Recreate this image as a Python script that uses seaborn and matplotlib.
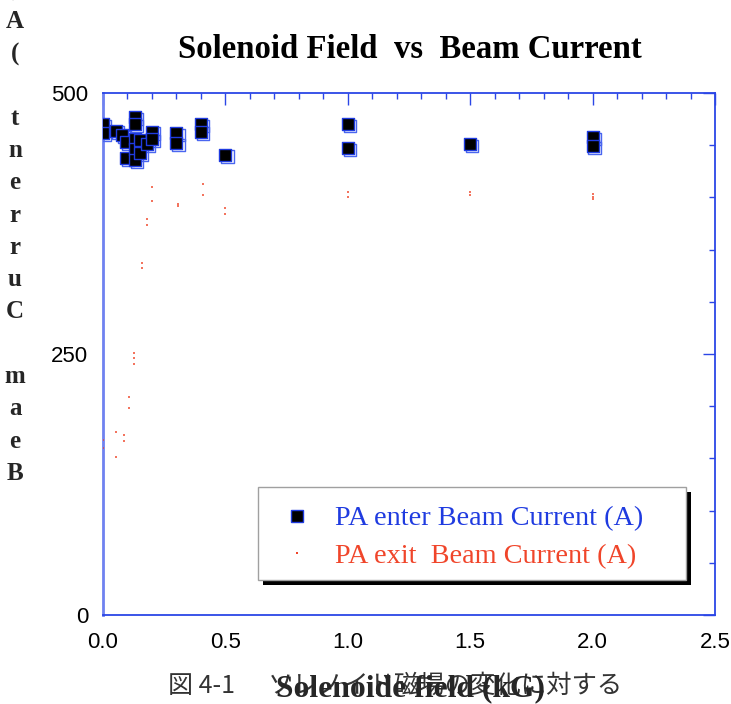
import matplotlib
matplotlib.use("Agg")
import matplotlib.pyplot as plt
import matplotlib.transforms as mtransforms
from matplotlib.lines import Line2D
from matplotlib.patches import Rectangle
import seaborn as sns
import pandas as pd

# PA enter beam current (A) against solenoid field (kG)
enter_field = [0.0, 0.0, 0.053, 0.078, 0.13, 0.13, 0.094, 0.094, 0.13, 0.13, 0.13,
               0.15, 0.15, 0.18, 0.2, 0.2, 0.3, 0.3, 0.4, 0.4, 0.5,
               1.0, 1.0, 1.5, 2.0, 2.0]
enter_current = [470, 462, 464, 460, 477, 470, 453, 438, 456, 446, 436,
                 455, 443, 451, 463, 456, 462, 452, 470, 463, 441,
                 470, 447, 451, 458, 449]

# PA exit beam current (A) against solenoid field (kG)
exit_field = [0.0, 0.0, 0.054, 0.054, 0.087, 0.087, 0.107, 0.107, 0.128, 0.128, 0.128,
              0.16, 0.16, 0.18, 0.18, 0.2, 0.2, 0.305, 0.305, 0.41, 0.41, 0.5, 0.5,
              1.0, 1.0, 1.5, 1.5, 2.0, 2.0, 2.0]
exit_current = [168, 160, 175, 151, 172, 167, 209, 198, 251, 246, 240,
                337, 332, 379, 374, 410, 397, 394, 392, 413, 402, 390, 384,
                405, 400, 405, 402, 403, 400, 398]

series_labels = ["PA enter Beam Current (A)", "PA exit  Beam Current (A)"]
title = "Solenoid Field  vs  Beam Current"
x_label = "Solenoide field (kG)"
y_label = "Beam Current (A)"
caption_head = "図 4-1"
caption_body = "ソレノイド磁場の変化に対する"

BLUE = "#1f3be0"
RED = "#f0452a"
AXIS_BLUE = "#2b46e6"

sns.set_style("white")
plt.rcParams["font.family"] = ["Liberation Sans", "DejaVu Sans"]

W, H = 731, 704
fig = plt.figure(figsize=(W / 100, H / 100), dpi=100)


def fx(px):
    return px / W


def fy(py):
    return 1 - py / H


ax = fig.add_axes([fx(103), fy(615), fx(715) - fx(103), fy(93) - fy(615)])

enter_df = pd.DataFrame({"field": enter_field, "current": enter_current})
exit_df = pd.DataFrame({"field": exit_field, "current": exit_current})

# offset hollow outline behind each filled square
sns.scatterplot(data=enter_df, x="field", y="current", ax=ax, marker="s", s=78,
                facecolor="none", edgecolor="#4a66f0", linewidth=1.0, zorder=3)
shadow = ax.collections[-1]
shadow.set_offset_transform(ax.transData + mtransforms.ScaledTranslation(
    2 / 100, -2 / 100, fig.dpi_scale_trans))

sns.scatterplot(data=enter_df, x="field", y="current", ax=ax, marker="s", s=78,
                color="black", edgecolor=BLUE, linewidth=1.0, zorder=4)
sns.scatterplot(data=exit_df, x="field", y="current", ax=ax, marker="s", s=2.5,
                color=RED, linewidth=0, alpha=0.75, zorder=4)

ax.set_xlim(0, 2.5)
ax.set_ylim(0, 500)
ax.set_xticks([0.0, 0.5, 1.0, 1.5, 2.0, 2.5])
ax.set_xticklabels(["0.0", "0.5", "1.0", "1.5", "2.0", "2.5"])
ax.set_xticks([i / 10 for i in range(26)], minor=True)
ax.set_yticks([0, 250, 500])
ax.set_yticks(list(range(0, 501, 50)), minor=True)
ax.set_xlabel("")
ax.set_ylabel("")

for side in ["left", "right", "top", "bottom"]:
    ax.spines[side].set_visible(True)
    ax.spines[side].set_color(AXIS_BLUE)
    ax.spines[side].set_linewidth(1.3)
ax.spines["left"].set_linewidth(2.0)
ax.spines["left"].set_color("#6f82f0")

ax.tick_params(which="both", direction="in", top=True, right=True,
               color=AXIS_BLUE, width=1.0)
ax.tick_params(which="major", length=8.6, labelsize=16, labelcolor="black")
ax.tick_params(which="minor", length=4.3)
ax.tick_params(axis="x", which="major", pad=12)
ax.tick_params(axis="y", which="major", pad=10.5)

serif = ["Liberation Serif", "DejaVu Serif"]

fig.text(fx(410), fy(50), title, ha="center", va="center",
         fontsize=23.6, fontweight="bold", family=serif, color="black")

# y-axis label: letters stacked upright, read from the bottom up
pitch = 32.3
for i, ch in enumerate(y_label):
    if ch == " ":
        continue
    fig.text(fx(15), fy(480 - i * pitch), ch, ha="center", va="baseline",
             fontsize=18, fontweight="bold", family=serif)

# caption and x-axis label sharing the bottom strip
cjk = ["Noto Sans CJK JP", "DejaVu Sans"]
fig.text(fx(168), fy(686), caption_head, ha="left", va="center",
         fontsize=18, color="#333333", family=cjk, zorder=1)
fig.text(fx(268), fy(686), caption_body, ha="left", va="center",
         fontsize=18.3, color="#333333", family=cjk, zorder=1)
fig.text(fx(411), fy(689), x_label, ha="center", va="center",
         fontsize=22.8, fontweight="bold", family=serif, zorder=2)

# legend box with a solid drop shadow
lx0, lx1, ly0, ly1 = 258, 686, 487, 580
fig.patches.append(Rectangle((fx(lx0 + 5), fy(ly1 + 5)), fx(lx1) - fx(lx0),
                             fy(ly0) - fy(ly1), transform=fig.transFigure,
                             facecolor="black", edgecolor="none", zorder=5))
fig.patches.append(Rectangle((fx(lx0), fy(ly1)), fx(lx1) - fx(lx0),
                             fy(ly0) - fy(ly1), transform=fig.transFigure,
                             facecolor="white", edgecolor="#a0a0a0",
                             linewidth=1.0, zorder=6))

handles = [
    Line2D([], [], linestyle="none", marker="s", markersize=8,
           markerfacecolor="black", markeredgecolor=BLUE, markeredgewidth=1.0),
    Line2D([], [], linestyle="none", marker="s", markersize=1.5,
           markerfacecolor=RED, markeredgewidth=0),
]
leg = fig.legend(handles, series_labels, loc="center left",
                 bbox_to_anchor=(fx(283), fy(537.5)), frameon=False,
                 prop={"family": serif, "size": 20.3}, handlelength=1.0,
                 handletextpad=0.85, borderpad=0, borderaxespad=0,
                 labelspacing=0.42)
leg.set_zorder(7)
for txt, col in zip(leg.get_texts(), [BLUE, RED]):
    txt.set_color(col)

fig.savefig("out.png", dpi=100)
